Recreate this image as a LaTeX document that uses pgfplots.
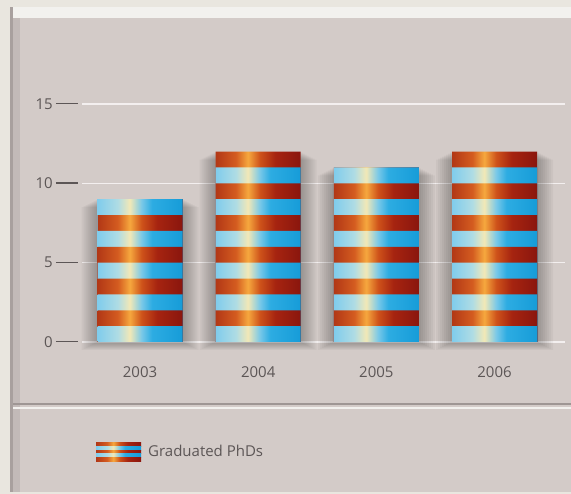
\documentclass[border=0pt]{standalone}
\usepackage{pgfplots}
\pgfplotsset{compat=1.18}
\usepackage{pgfplotstable}
\usepackage{fontspec}
\setmainfont{Open Sans}
\pgfdeclarelayer{background}
\pgfsetlayers{background,main}

% frame colours
\definecolor{outer}{RGB}{233,230,223}
\definecolor{panel}{RGB}{211,203,200}
\definecolor{bevellight}{RGB}{242,241,238}
\definecolor{beveldark}{RGB}{168,160,158}
\definecolor{bevelmid}{RGB}{194,186,184}
\definecolor{divdark}{RGB}{158,150,148}
\definecolor{txt}{RGB}{92,86,86}
\definecolor{gridc}{RGB}{243,239,239}

% stripe colours, left to right
\definecolor{b0}{RGB}{128,204,236}
\definecolor{b1}{RGB}{175,220,228}
\definecolor{b2}{RGB}{242,232,182}
\definecolor{b3}{RGB}{120,200,232}
\definecolor{b4}{RGB}{45,172,226}
\definecolor{b5}{RGB}{22,156,216}
\definecolor{r0}{RGB}{178,56,22}
\definecolor{r1}{RGB}{212,92,32}
\definecolor{r2}{RGB}{246,168,62}
\definecolor{r3}{RGB}{206,82,26}
\definecolor{r4}{RGB}{166,36,16}
\definecolor{r5}{RGB}{138,22,14}

% one series spans all four bars, so the gradient is repeated once per bar
% (tikz maps the path onto 25bp..75bp of the shading)
\pgfdeclarehorizontalshading{bluestripe}{100bp}{color(0bp)=(b0);
  color(25bp)=(b0); color(27.32bp)=(b1); color(28.67bp)=(b2); color(30.03bp)=(b3); color(31.19bp)=(b4); color(34.67bp)=(b5);
  color(38.44bp)=(b0); color(40.76bp)=(b1); color(42.11bp)=(b2); color(43.47bp)=(b3); color(44.63bp)=(b4); color(48.11bp)=(b5);
  color(51.89bp)=(b0); color(54.21bp)=(b1); color(55.56bp)=(b2); color(56.92bp)=(b3); color(58.08bp)=(b4); color(61.56bp)=(b5);
  color(65.33bp)=(b0); color(67.65bp)=(b1); color(69.00bp)=(b2); color(70.36bp)=(b3); color(71.52bp)=(b4); color(75bp)=(b5);
  color(100bp)=(b5)}
\pgfdeclarehorizontalshading{redstripe}{100bp}{color(0bp)=(r0);
  color(25bp)=(r0); color(27.32bp)=(r1); color(28.67bp)=(r2); color(30.03bp)=(r3); color(31.77bp)=(r4); color(34.67bp)=(r5);
  color(38.44bp)=(r0); color(40.76bp)=(r1); color(42.11bp)=(r2); color(43.47bp)=(r3); color(45.21bp)=(r4); color(48.11bp)=(r5);
  color(51.89bp)=(r0); color(54.21bp)=(r1); color(55.56bp)=(r2); color(56.92bp)=(r3); color(58.66bp)=(r4); color(61.56bp)=(r5);
  color(65.33bp)=(r0); color(67.65bp)=(r1); color(69.00bp)=(r2); color(70.36bp)=(r3); color(72.10bp)=(r4); color(75bp)=(r5);
  color(100bp)=(r5)}
% single copies for the legend key
\pgfdeclarehorizontalshading{bluekey}{100bp}{color(0bp)=(b0); color(25bp)=(b0); color(37bp)=(b1);
  color(44bp)=(b2); color(51bp)=(b3); color(57bp)=(b4); color(75bp)=(b5); color(100bp)=(b5)}
\pgfdeclarehorizontalshading{redkey}{100bp}{color(0bp)=(r0); color(25bp)=(r0); color(37bp)=(r1);
  color(44bp)=(r2); color(51bp)=(r3); color(60bp)=(r4); color(75bp)=(r5); color(100bp)=(r5)}

% graduated PhDs per year (x = 0..3 for 2003..2006)
\pgfplotstableread{
x y
0 9
1 12
2 11
3 12
}\phds

\pgfplotsset{
  stripe/.style={ybar, bar width=85pt, bar shift=0pt, draw=none, shade, shading=#1, forget plot},
  halo/.style={ybar, bar shift=0pt, draw=none, fill=black, fill opacity=0.035, forget plot},
}

\begin{document}
\begin{tikzpicture}
\begin{axis}[
  scale only axis, width=483pt, height=238pt,
  xmin=-0.491, xmax=3.596, ymin=0, ymax=15,
  clip=false,
  axis line style={draw=none},
  tick style={draw=none},
  ymajorgrids, grid style={gridc, line width=1.5pt},
  ytick={0,5,10,15},
  yticklabel={\pgfmathprintnumber{\tick}\hspace{3pt}\rule[0.34em]{22pt}{1.1pt}},
  yticklabel style={inner xsep=0pt, xshift=-4pt, text=txt, font=\fontsize{15}{15}\selectfont},
  xtick={0,1,2,3}, xticklabels={2003,2004,2005,2006},
  xticklabel style={anchor=center, yshift=-30pt, text=txt, font=\fontsize{15}{15}\selectfont},
  /pgf/number format/assume math mode=true,
  legend style={at={(rel axis cs:0.029,-0.462)}, anchor=west, draw=none, fill=none,
    inner sep=0pt, text=txt, font=\fontsize{15}{15}\selectfont},
]
\coordinate (O) at (rel axis cs:0,0);

% soft shadow: widening, slightly lowered copies of the bars
\addplot[halo, bar width=89pt,  yshift=-1pt] table {\phds};
\addplot[halo, bar width=93pt,  yshift=-2pt] table {\phds};
\addplot[halo, bar width=97pt,  yshift=-3pt] table {\phds};
\addplot[halo, bar width=101pt, yshift=-4pt] table {\phds};
\addplot[halo, bar width=105pt, yshift=-5pt] table {\phds};
\addplot[halo, bar width=109pt, yshift=-6pt] table {\phds};
\addplot[halo, bar width=113pt, yshift=-7pt] table {\phds};
\addplot[halo, bar width=117pt, yshift=-8pt] table {\phds};

% one band per unit, drawn from the top down; each lower band covers the one above
\addplot[stripe=redstripe]  coordinates {(0,9) (1,12) (2,11) (3,12)};
\addplot[stripe=bluestripe] coordinates {(0,9) (1,11) (2,11) (3,11)};
\addplot[stripe=redstripe]  coordinates {(0,9) (1,10) (2,10) (3,10)};
\addplot[stripe=bluestripe] coordinates {(0,9) (1,9) (2,9) (3,9)};
\addplot[stripe=redstripe]  coordinates {(0,8) (1,8) (2,8) (3,8)};
\addplot[stripe=bluestripe] coordinates {(0,7) (1,7) (2,7) (3,7)};
\addplot[stripe=redstripe]  coordinates {(0,6) (1,6) (2,6) (3,6)};
\addplot[stripe=bluestripe] coordinates {(0,5) (1,5) (2,5) (3,5)};
\addplot[stripe=redstripe]  coordinates {(0,4) (1,4) (2,4) (3,4)};
\addplot[stripe=bluestripe] coordinates {(0,3) (1,3) (2,3) (3,3)};
\addplot[stripe=redstripe]  coordinates {(0,2) (1,2) (2,2) (3,2)};
\addplot[stripe=bluestripe] coordinates {(0,1) (1,1) (2,1) (3,1)};

\addlegendimage{draw=none, legend image code/.code={
  \path[shade, shading=redkey, draw=none]  (0pt,5.7pt)  rectangle (45pt,9.6pt);
  \path[shade, shading=bluekey, draw=none] (0pt,1.9pt)  rectangle (45pt,5.8pt);
  \path[shade, shading=redkey, draw=none]  (0pt,-1.9pt) rectangle (45pt,2pt);
  \path[shade, shading=bluekey, draw=none] (0pt,-5.7pt) rectangle (45pt,-1.8pt);
  \path[shade, shading=redkey, draw=none]  (0pt,-9.5pt) rectangle (45pt,-5.6pt);
}}
\addlegendentry{\hspace*{5pt}Graduated PhDs}
\end{axis}
% frame behind the chart, in pt from the lower left corner of the plot area
\begin{pgfonlayer}{background}
\begin{scope}[shift={(O)}]
\fill[outer] (-82pt,-152pt) rectangle (489pt,342pt);
\fill[panel] (-72pt,-150pt) rectangle (489pt,335pt);
\fill[bevellight] (-72pt,324pt) rectangle (489pt,335pt);
\fill[beveldark] (-72pt,-150pt) rectangle (-69pt,335pt);
\fill[bevelmid] (-69pt,-150pt) rectangle (-62pt,324pt);
\fill[divdark] (-69pt,-63pt) rectangle (489pt,-61pt);
\fill[bevellight] (-69pt,-67pt) rectangle (489pt,-65pt);
\end{scope}
\end{pgfonlayer}
\pgfresetboundingbox
\path[use as bounding box] ([shift={(-82pt,-152pt)}]O) rectangle ([shift={(489pt,342pt)}]O);
\end{tikzpicture}
\end{document}
